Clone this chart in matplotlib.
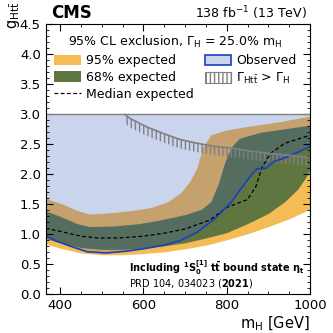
import numpy as np
import matplotlib
matplotlib.use("Agg")
import matplotlib.pyplot as plt
from matplotlib.patches import Patch
from matplotlib.lines import Line2D
from matplotlib.ticker import MultipleLocator

# Limits (m_H in GeV, g_Htt coupling)
obs_m = [365, 390, 430, 465, 510, 560, 600, 650, 690, 730, 770, 810, 830, 860, 872, 895, 912, 945, 1000]
obs_g = [0.98, 0.89, 0.79, 0.71, 0.69, 0.72, 0.76, 0.82, 0.90, 1.04, 1.25, 1.53, 1.72, 2.00, 2.09, 2.10, 2.21, 2.29, 2.46]

exp_m = [365, 400, 450, 490, 540, 600, 650, 700, 760, 800, 850, 870, 885, 905, 940, 1000]
exp_g = [1.10, 1.05, 0.97, 0.94, 0.94, 0.97, 1.02, 1.09, 1.24, 1.45, 1.58, 1.80, 2.12, 2.35, 2.52, 2.65]

up95_m = [365, 400, 440, 470, 520, 575, 620, 660, 690, 710, 728, 742, 762, 800, 860, 920, 1000]
up95_g = [1.60, 1.52, 1.40, 1.34, 1.36, 1.40, 1.45, 1.55, 1.70, 1.87, 2.10, 2.45, 2.66, 2.74, 2.81, 2.87, 2.97]

up68_m = [365, 400, 440, 470, 530, 590, 640, 700, 740, 762, 780, 795, 810, 830, 880, 940, 1000]
up68_g = [1.39, 1.30, 1.18, 1.13, 1.14, 1.18, 1.24, 1.33, 1.42, 1.55, 1.85, 2.20, 2.45, 2.60, 2.70, 2.76, 2.82]

lo68_m = [365, 400, 450, 500, 550, 600, 650, 700, 750, 800, 850, 900, 940, 970, 990, 1000]
lo68_g = [0.93, 0.86, 0.78, 0.75, 0.75, 0.77, 0.81, 0.86, 0.94, 1.03, 1.18, 1.35, 1.55, 1.75, 1.95, 2.08]

lo95_m = [365, 400, 450, 500, 550, 600, 650, 700, 750, 800, 850, 900, 950, 1000]
lo95_g = [0.84, 0.77, 0.69, 0.66, 0.66, 0.68, 0.71, 0.76, 0.82, 0.91, 1.01, 1.13, 1.26, 1.42]

# Gamma_Htt > Gamma_H boundary
width_m = [555, 568, 608, 648, 688, 728, 768, 808, 864, 944, 1000]
width_g = [3.00, 2.93, 2.79, 2.68, 2.58, 2.52, 2.47, 2.44, 2.38, 2.32, 2.28]

g_max = 3.0

c95 = "#F5BB54"
c68 = "#607641"
cobs = "#3355BB"
cline = "#1A3FBF"

fig = plt.figure(figsize=(3.33, 3.33), dpi=100)
ax = fig.add_axes([0.137, 0.116, 0.794, 0.811])

# common grid so the bands can be filled
m = np.linspace(365, 1000, 400)
band = {k: np.interp(m, x, y) for k, (x, y) in {
    "u95": (up95_m, up95_g), "l95": (lo95_m, lo95_g),
    "u68": (up68_m, up68_g), "l68": (lo68_m, lo68_g)}.items()}

ax.fill_between(m, band["l95"], band["u95"], color=c95, lw=0)
ax.fill_between(m, band["l68"], band["u68"], color=c68, lw=0)
ax.plot(exp_m, exp_g, color="black", ls="--", lw=0.9, dashes=(3, 2))

# observed exclusion region
ax.fill_between(obs_m, obs_g, g_max, color=cobs, alpha=0.25, lw=0)
ax.plot(obs_m, obs_g, color=cline, lw=1.2)
ax.axhline(g_max, color="gray", lw=1.0)

# width boundary with hatching underneath
wg = np.array(width_g)
ax.fill_between(width_m, wg - 0.15, wg, facecolor="none", edgecolor="gray",
                hatch="||||", lw=0)
ax.plot(width_m, width_g, color="gray", lw=1.2)

ax.set_xlim(365, 1000)
ax.set_ylim(0, 4.5)
ax.xaxis.set_major_locator(MultipleLocator(200))
ax.xaxis.set_minor_locator(MultipleLocator(50))
ax.yaxis.set_major_locator(MultipleLocator(0.5))
ax.yaxis.set_minor_locator(MultipleLocator(0.1))
ax.tick_params(which="both", direction="in", top=True, right=True, labelsize=9.5)
ax.tick_params(which="major", length=5)
ax.tick_params(which="minor", length=2.5)

ax.set_xlabel(r"m$_\mathrm{H}$ [GeV]", loc="right", fontsize=10.5, labelpad=2)
fig.text(0.042, 0.995, r"g$_\mathrm{Ht\bar{t}}$", rotation=90, ha="center", va="top", fontsize=10.5)

fig.text(0.155, 1 - 18 / 333, "CMS", fontsize=12, fontweight="bold", va="baseline")
fig.text(0.922, 1 - 18 / 333, r"138 fb$^{-1}$ (13 TeV)", fontsize=9, ha="right", va="baseline")

handles = [
    Patch(facecolor=c95, edgecolor="none"),
    Patch(facecolor=c68, edgecolor="none"),
    Line2D([], [], color="black", ls="--", lw=0.9, dashes=(3, 2)),
    Patch(facecolor="#CCD5EE", edgecolor=cline, lw=1.2),
    Patch(facecolor="white", edgecolor="gray", hatch="||||", lw=0.8),
]
labels = ["95% expected", "68% expected", "Median expected", "Observed",
          r"$\Gamma_\mathrm{Ht\bar{t}}$ > $\Gamma_\mathrm{H}$"]
leg = ax.legend(handles, labels, ncol=2, loc="upper center", bbox_to_anchor=(0.49, 1.005),
                title=r"95% CL exclusion, $\Gamma_\mathrm{H}$ = 25.0% m$_\mathrm{H}$",
                fontsize=9, title_fontsize=9, frameon=False, handlelength=2.1,
                handleheight=0.9, handletextpad=0.4, columnspacing=0.9, labelspacing=0.3)

ax.text(0.315, 0.1, r"Including $\mathbf{^{1}S_{0}^{[1]}}$ $\mathbf{t\bar{t}}$ bound state $\mathbf{\eta_{t}}$",
        transform=ax.transAxes, fontsize=7.0, fontweight="bold", va="center")
ax.text(0.315, 0.04, r"PRD 104, 034023 ($\mathbf{2021}$)", transform=ax.transAxes,
        fontsize=7.0, va="center")

fig.savefig("out.png", dpi=100)
